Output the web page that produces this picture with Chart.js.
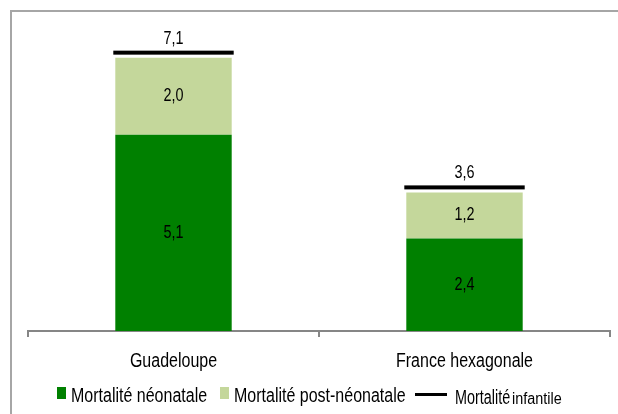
<!DOCTYPE html>
<html>
<head>
<meta charset="utf-8">
<script src="https://cdn.jsdelivr.net/npm/chart.js@4"></script>
<style>
  body { margin: 0; background: #fff; }
  #wrap { position: relative; width: 618px; height: 414px; overflow: hidden; }
  #frame { position: absolute; left: 10px; top: 10px; width: 700px; height: 500px; border: 2px solid #a6a6a6; box-sizing: border-box; }
  canvas { position: absolute; left: 0; top: 0; }
  .sq { position: absolute; top: 387px; width: 9px; height: 12px; }
  .txt { position: absolute; top: 385px; font-family: 'Liberation Sans', Arial, sans-serif; font-size: 20px; line-height: 20px; color: #000; white-space: nowrap; transform: scaleX(0.8); transform-origin: left top; }
  #ln { position: absolute; left: 415px; top: 393px; width: 32px; height: 3px; background: #000; }
</style>
</head>
<body>
<div id="wrap">
  <div id="frame"></div>
  <canvas id="chart" width="618" height="414"></canvas>
  <div class="sq" style="left:57px;background:#008000"></div>
  <div class="txt" style="left:71px">Mortalité néonatale</div>
  <div class="sq" style="left:220px;background:#c4d79b"></div>
  <div class="txt" style="left:234px">Mortalité post-néonatale</div>
  <div id="ln"></div>
  <div class="txt" style="left:455px;top:387px;transform:scaleX(0.72)">Mortalité</div>
  <div class="txt" style="left:512px;top:391px;font-size:16px;line-height:16px;transform:scaleX(0.9)">infantile</div>
</div>
<script>
var categories = ["Guadeloupe", "France hexagonale"]
var neonatale = [5.1, 2.4]
var postNeonatale = [2.0, 1.2]
var infantile = [7.1, 3.6]

var fontFamily = "'Liberation Sans', Arial, sans-serif"
var squeeze = 0.8

function fmt(v) {
    return v.toFixed(1).replace(".", ",")
}

// narrow text: the reference font is condensed, so squeeze Liberation Sans
function narrowText(ctx, text, x, y) {
    ctx.save()
    ctx.translate(x, y)
    ctx.scale(squeeze, 1)
    ctx.fillText(text, 0, 0)
    ctx.restore()
}

// black total line above each stacked bar, value labels and category labels
var totalsPlugin = {
    id: "totals",
    afterDatasetsDraw: function (chart) {
        var ctx = chart.ctx
        var y = chart.scales.y
        var x = chart.scales.x
        var meta0 = chart.getDatasetMeta(0)
        var meta1 = chart.getDatasetMeta(1)
        ctx.save()
        ctx.fillStyle = "#000"
        ctx.textAlign = "center"
        ctx.textBaseline = "middle"
        ctx.font = "18px " + fontFamily
        for (var i = 0; i < categories.length; i++) {
            var bar0 = meta0.data[i]
            var bar1 = meta1.data[i]
            var half = bar0.width / 2
            narrowText(ctx, fmt(neonatale[i]), bar0.x, (bar0.y + bar0.base) / 2)
            narrowText(ctx, fmt(postNeonatale[i]), bar1.x, (bar1.y + bar1.base) / 2)
            var ty = y.getPixelForValue(infantile[i]) - 5
            ctx.fillRect(bar0.x - half - 2, ty - 2, bar0.width + 4, 4)
            narrowText(ctx, fmt(infantile[i]), bar0.x, ty - 14)
        }
        ctx.font = "20px " + fontFamily
        ctx.textBaseline = "alphabetic"
        for (var j = 0; j < categories.length; j++) {
            narrowText(ctx, categories[j], x.getPixelForTick(j), x.top + 36)
        }
        ctx.restore()
    }
}

var chart = new Chart(document.getElementById("chart").getContext("2d"), {
    type: "bar",
    data: {
        labels: categories,
        datasets: [{
            label: "Mortalité néonatale",
            data: neonatale,
            backgroundColor: "#008000",
            barPercentage: 0.4,
            categoryPercentage: 1.0
        }, {
            label: "Mortalité post-néonatale",
            data: postNeonatale,
            backgroundColor: "#c4d79b",
            barPercentage: 0.4,
            categoryPercentage: 1.0
        }]
    },
    options: {
        responsive: false,
        animation: false,
        layout: { padding: { left: 28, right: 8, top: 23, bottom: 29 } },
        plugins: { legend: { display: false }, tooltip: { enabled: false } },
        scales: {
            x: {
                stacked: true,
                grid: { drawOnChartArea: false, drawTicks: true, tickLength: 6, color: "#868686", lineWidth: 2 },
                border: { color: "#868686", width: 2 },
                ticks: { color: "rgba(0,0,0,0)", padding: 12, font: { family: fontFamily, size: 20 } }
            },
            y: {
                stacked: true,
                display: false,
                min: 0,
                max: 8
            }
        }
    },
    plugins: [totalsPlugin]
})
</script>
</body>
</html>
